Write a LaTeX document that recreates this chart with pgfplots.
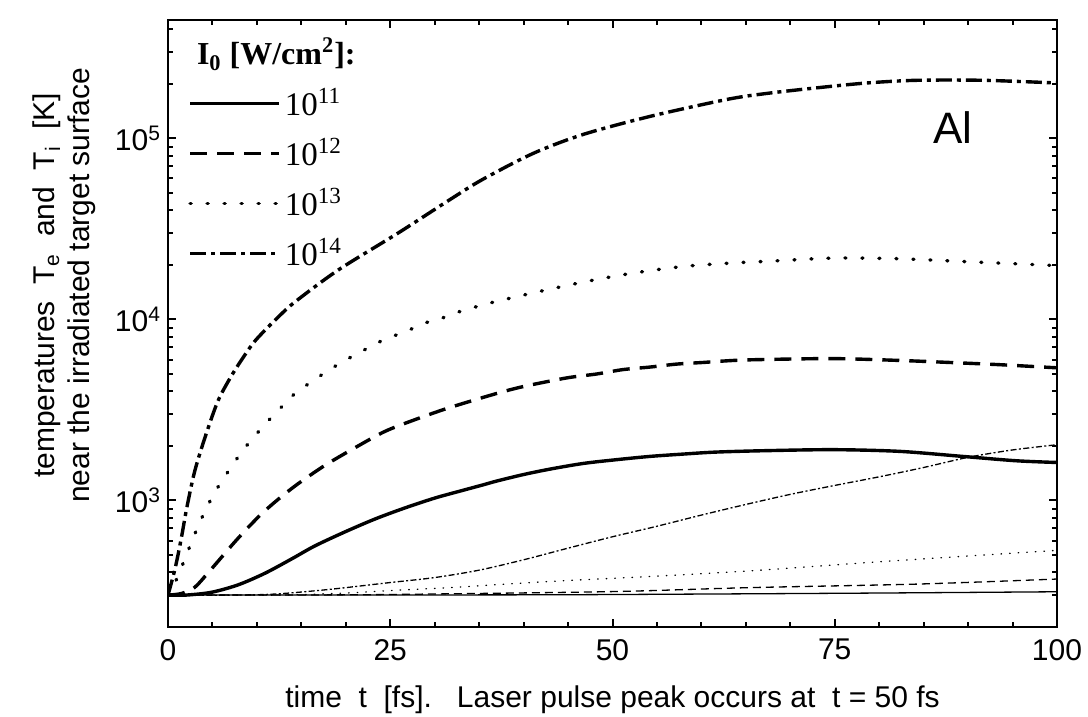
\documentclass[border=0pt]{standalone}
\usepackage{fontspec}
\setmainfont{Liberation Sans}
\newfontfamily\legfont{Liberation Serif}
\usepackage{pgfplots}
\pgfplotsset{compat=1.18}

\pgfplotsset{
  te/.style={black, line width=1.7pt},
  ti/.style={black, line width=0.65pt},
}

\begin{document}
\begin{tikzpicture}
\useasboundingbox (-84pt,-45pt) rectangle (460pt,313.5pt);
\begin{axis}[
  scale only axis, width=444.5pt, height=303.5pt,
  ymode=log,
  xmin=0, xmax=100, ymin=200, ymax=4.5e5,
  xtick={0,25,50,75,100}, xticklabels={0,25,50,75,100},
  minor x tick num=4,
  ytick={1000,10000,100000},
  yticklabels={10\textsuperscript{3},10\textsuperscript{4},10\textsuperscript{5}},
  minor ytick={200,300,400,500,600,700,800,900,2000,3000,4000,5000,6000,7000,8000,9000,20000,30000,40000,50000,60000,70000,80000,90000,200000,300000,400000},
  tick pos=both, tick align=inside,
  major tick length=4pt, minor tick length=2.5pt,
  every tick/.style={black, line width=1pt},
  axis line style={line width=1.25pt},
  tick label style={font=\fontsize{15}{18}\selectfont},
  xticklabel style={yshift=-2.5pt},
  xlabel={time\ \ t\ \ [fs].\ \ \ Laser pulse peak occurs at\ \ t = 50 fs},
  xlabel style={at={(axis description cs:0.5,-0.1334)}, anchor=base, font=\fontsize{15}{18}\selectfont},
  ylabel={temperatures\ \ T\textsubscript{e}\ \ and\ \ T\textsubscript{i}\ \ [K]\\near the irradiated target surface},
  ylabel style={align=center, at={(axis description cs:-0.0805,0.563)}, anchor=south, inner sep=0pt, font=\fontsize{15}{17.5}\selectfont},
  legend style={at={(axis description cs:0.0225,0.895)}, anchor=north west, draw=none, fill=none,
    font=\legfont\fontsize{16.5}{16.5}\selectfont, row sep=5.6pt, inner sep=0pt},
  legend cell align=left,
  legend image code/.code={\draw[#1] (0pt,0pt) -- (44.5pt,0pt);},
]
% electron temperatures (thick)
\addplot[te, smooth] coordinates {
(0,300)(2,300)(4.9,311)(7.9,342)(10.9,396)(13.9,475)(16.5,560)(19.9,670)(23.3,790)(26.6,907)
(30,1030)(33,1131)(35.5,1221)(37,1280)(40,1390)(43,1490)(46.7,1600)(50.4,1678)(54.2,1750)(57.9,1802)
(61.6,1849)(67.3,1883)(74.9,1907)(82.3,1866)(89.4,1750)(95.4,1656)(100,1620)};
\addlegendentry{10\textsuperscript{11}}
\addplot[te, smooth, dash pattern=on 8.5pt off 5pt] coordinates {
(0,300)(1.5,306)(3,331)(4.5,398)(6,484)(7.5,589)(9,708)(10.5,841)(12,977)(13.5,1122)(15,1274)
(17.7,1567)(21,1950)(24.4,2405)(27.8,2795)(31.5,3235)(36.2,3800)(39.2,4170)(42.2,4485)(45.2,4780)
(48.2,4990)(51.2,5280)(54.2,5450)(57.2,5660)(60.2,5780)(63.6,5930)(67,6000)(74.9,6070)(82.3,5930)
(87.9,5780)(93.5,5620)(98.5,5450)(100,5400)};
\addlegendentry{10\textsuperscript{12}}
\addplot[te, smooth, line cap=round, dash pattern=on 0.5pt off 8pt] coordinates {
(0,300)(1,370)(2,490)(3,650)(4,840)(5,1050)(6,1270)(7,1500)(8,1770)(9,2050)(10.9,2630)(12.6,3220)
(14.3,3900)(16.2,4540)(18,5210)(19.9,5930)(21.8,6660)(23.5,7400)(25.3,8060)(27.2,8770)(28.9,9550)
(30.8,10150)(32.6,10950)(36.2,12300)(41.9,14300)(47.1,16200)(52.3,18000)(58,19600)(63.6,20500)
(67.3,20900)(74.9,21800)(82.4,21600)(89.1,20900)(98.1,20000)(100,19800)};
\addlegendentry{10\textsuperscript{13}}
\addplot[te, smooth, dash pattern=on 8pt off 2.5pt on 2pt off 2.5pt] coordinates {
(0,300)(0.8,421)(1.5,620)(2.1,903)(3,1446)(4.2,2258)(5.6,3524)(7,4750)(8.3,6000)(9.5,7300)(10.5,8300)
(12.4,10300)(14.3,12500)(19.2,18800)(25.9,30000)(31.7,45800)(35.4,59300)(41.1,82600)(46.7,105000)
(54.2,132000)(62.9,164000)(67.4,177000)(73,190000)(78.6,202000)(84.2,209000)(91.7,209000)(100,202000)};
\addlegendentry{10\textsuperscript{14}}
% ion temperatures (thin)
\addplot[ti, smooth, forget plot] coordinates {
(0,300)(40,301)(60,304)(80,308)(100,313)};
\addplot[ti, smooth, forget plot, dash pattern=on 4pt off 2.5pt] coordinates {
(0,300)(20,301)(31.7,305)(50.4,314)(65.5,330)(84.2,345)(100,368)};
\addplot[ti, smooth, forget plot, line cap=round, dash pattern=on 0.3pt off 4pt] coordinates {
(0,300)(12,300)(20,308)(25,318)(31.7,330)(43,357)(54.2,380)(66,410)(80.5,460)(100,530)};
\addplot[ti, smooth, forget plot, dash pattern=on 3pt off 1.2pt on 1pt off 1.2pt] coordinates {
(0,300)(7,300)(12,304)(18,322)(25,352)(30,375)(35,412)(40,470)(45,545)(50,630)(55,720)(60,830)
(65,950)(70,1080)(75,1210)(80,1350)(85,1520)(90,1730)(95,1900)(100,2030)};
\node[anchor=base west, font=\legfont\bfseries\fontsize{16}{16}\selectfont]
  at (axis description cs:0.0247,0.926) {I\textsubscript{0} [W/cm\textsuperscript{2}]:};
\node[font=\fontsize{22}{22}\selectfont] at (axis description cs:0.883,0.822) {Al};
\end{axis}
\end{tikzpicture}
\end{document}
